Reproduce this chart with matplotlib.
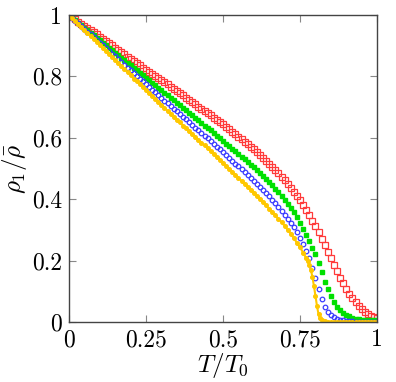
import numpy as np
import matplotlib
matplotlib.use('Agg')
import matplotlib.pyplot as plt

plt.rcParams['font.family'] = 'serif'
plt.rcParams['font.serif'] = ['cmr10']
plt.rcParams['mathtext.fontset'] = 'cm'
plt.rcParams['axes.formatter.use_mathtext'] = True

# T/T0 grid shared by red, green, blue
t_main = [0.00, 0.01, 0.02, 0.03, 0.04, 0.05, 0.06, 0.07, 0.08, 0.09,
          0.10, 0.11, 0.12, 0.13, 0.14, 0.15, 0.16, 0.17, 0.18, 0.19,
          0.20, 0.21, 0.22, 0.23, 0.24, 0.25, 0.26, 0.27, 0.28, 0.29,
          0.30, 0.31, 0.32, 0.33, 0.34, 0.35, 0.36, 0.37, 0.38, 0.39,
          0.40, 0.41, 0.42, 0.43, 0.44, 0.45, 0.46, 0.47, 0.48, 0.49,
          0.50, 0.51, 0.52, 0.53, 0.54, 0.55, 0.56, 0.57, 0.58, 0.59,
          0.60, 0.61, 0.62, 0.63, 0.64, 0.65, 0.66, 0.67, 0.68, 0.69,
          0.70, 0.71, 0.72, 0.73, 0.74, 0.75, 0.76, 0.77, 0.78, 0.79,
          0.80, 0.81, 0.82, 0.83, 0.84, 0.85, 0.86, 0.87, 0.88, 0.89,
          0.90, 0.91, 0.92, 0.93, 0.94, 0.95, 0.96, 0.97, 0.98, 0.99,
          1.00]

rho_red = [1.000, 0.993, 0.986, 0.978, 0.971, 0.964, 0.957, 0.950, 0.944, 0.937,
           0.930, 0.923, 0.916, 0.908, 0.901, 0.894, 0.887, 0.879, 0.872, 0.864,
           0.857, 0.850, 0.843, 0.836, 0.829, 0.822, 0.815, 0.808, 0.802, 0.795,
           0.788, 0.781, 0.774, 0.766, 0.759, 0.752, 0.745, 0.738, 0.730, 0.723,
           0.716, 0.709, 0.702, 0.694, 0.687, 0.680, 0.673, 0.666, 0.659, 0.651,
           0.644, 0.636, 0.628, 0.620, 0.612, 0.604, 0.596, 0.588, 0.579, 0.571,
           0.562, 0.553, 0.544, 0.535, 0.526, 0.516, 0.506, 0.496, 0.485, 0.474,
           0.463, 0.451, 0.438, 0.425, 0.412, 0.398, 0.382, 0.366, 0.348, 0.330,
           0.312, 0.292, 0.271, 0.250, 0.228, 0.207, 0.186, 0.165, 0.145, 0.126,
           0.108, 0.092, 0.078, 0.065, 0.053, 0.043, 0.034, 0.027, 0.021, 0.016,
           0.012]

rho_green = [1.000, 0.992, 0.984, 0.975, 0.967, 0.959, 0.951, 0.943, 0.934, 0.926,
             0.918, 0.910, 0.902, 0.893, 0.885, 0.877, 0.869, 0.861, 0.852, 0.844,
             0.836, 0.828, 0.820, 0.812, 0.804, 0.796, 0.788, 0.780, 0.771, 0.763,
             0.755, 0.747, 0.739, 0.731, 0.723, 0.715, 0.707, 0.698, 0.690, 0.681,
             0.673, 0.665, 0.657, 0.648, 0.640, 0.632, 0.624, 0.615, 0.607, 0.598,
             0.590, 0.581, 0.573, 0.564, 0.556, 0.547, 0.538, 0.530, 0.521, 0.513,
             0.504, 0.495, 0.486, 0.476, 0.466, 0.456, 0.445, 0.434, 0.423, 0.411,
             0.399, 0.386, 0.372, 0.357, 0.341, 0.323, 0.304, 0.284, 0.263, 0.242,
             0.220, 0.192, 0.162, 0.132, 0.106, 0.085, 0.066, 0.050, 0.038, 0.030,
             0.023, 0.018, 0.014, 0.011, 0.009, 0.008, 0.007, 0.006, 0.005, 0.005,
             0.004]

rho_blue = [1.000, 0.991, 0.982, 0.973, 0.964, 0.955, 0.946, 0.937, 0.928, 0.919,
            0.910, 0.901, 0.892, 0.883, 0.874, 0.865, 0.856, 0.847, 0.838, 0.829,
            0.820, 0.811, 0.802, 0.793, 0.784, 0.775, 0.766, 0.757, 0.748, 0.739,
            0.730, 0.721, 0.712, 0.704, 0.695, 0.686, 0.677, 0.668, 0.660, 0.651,
            0.642, 0.633, 0.624, 0.616, 0.607, 0.598, 0.589, 0.580, 0.571, 0.562,
            0.553, 0.544, 0.535, 0.526, 0.516, 0.507, 0.498, 0.488, 0.479, 0.470,
            0.460, 0.450, 0.440, 0.431, 0.421, 0.410, 0.399, 0.388, 0.376, 0.363,
            0.350, 0.337, 0.323, 0.308, 0.292, 0.275, 0.255, 0.232, 0.207, 0.177,
            0.142, 0.106, 0.074, 0.050, 0.033, 0.022, 0.015, 0.010, 0.007, 0.005,
            0.003, 0.002, 0.002, 0.001, 0.001, 0.001, 0.001, 0.000, 0.000, 0.000,
            0.000]

# yellow series is sampled finer through its sharp drop
t_yellow = [0.00, 0.01, 0.02, 0.03, 0.04, 0.05, 0.06, 0.07, 0.08, 0.09,
            0.10, 0.11, 0.12, 0.13, 0.14, 0.15, 0.16, 0.17, 0.18, 0.19,
            0.20, 0.21, 0.22, 0.23, 0.24, 0.25, 0.26, 0.27, 0.28, 0.29,
            0.30, 0.31, 0.32, 0.33, 0.34, 0.35, 0.36, 0.37, 0.38, 0.39,
            0.40, 0.41, 0.42, 0.43, 0.44, 0.45, 0.46, 0.47, 0.48, 0.49,
            0.50, 0.51, 0.52, 0.53, 0.54, 0.55, 0.56, 0.57, 0.58, 0.59,
            0.60, 0.61, 0.62, 0.63, 0.64, 0.65, 0.66, 0.67, 0.68, 0.69,
            0.70, 0.71, 0.72, 0.73, 0.74, 0.75, 0.76, 0.77, 0.775, 0.78,
            0.785, 0.79, 0.795, 0.80, 0.805, 0.81, 0.815, 0.82, 0.83, 0.84,
            0.85, 0.86, 0.87, 0.88, 0.89, 0.90, 0.91, 0.92, 0.93, 0.94,
            0.95, 0.96, 0.97, 0.98, 0.99, 1.00]

rho_yellow = [1.000, 0.990, 0.980, 0.971, 0.961, 0.951, 0.941, 0.931, 0.922, 0.912,
              0.902, 0.892, 0.882, 0.873, 0.863, 0.853, 0.843, 0.833, 0.823, 0.813,
              0.803, 0.793, 0.784, 0.774, 0.765, 0.755, 0.745, 0.736, 0.726, 0.717,
              0.707, 0.697, 0.688, 0.678, 0.669, 0.659, 0.650, 0.640, 0.631, 0.621,
              0.612, 0.603, 0.594, 0.584, 0.575, 0.566, 0.557, 0.547, 0.538, 0.528,
              0.519, 0.509, 0.499, 0.490, 0.480, 0.470, 0.460, 0.450, 0.441, 0.431,
              0.421, 0.411, 0.401, 0.390, 0.380, 0.369, 0.358, 0.347, 0.336, 0.325,
              0.313, 0.300, 0.287, 0.273, 0.258, 0.243, 0.226, 0.208, 0.198, 0.186,
              0.170, 0.148, 0.118, 0.085, 0.052, 0.025, 0.012, 0.005, 0.002, 0.001,
              0.000, 0.000, 0.000, 0.000, 0.000, 0.000, 0.000, 0.000, 0.000, 0.000,
              0.000, 0.000, 0.000, 0.000, 0.000, 0.000]

x_ticks = [0, 0.25, 0.5, 0.75, 1]
x_ticklabels = ['0', '0.25', '0.5', '0.75', '1']
y_ticks = [0, 0.2, 0.4, 0.6, 0.8, 1]
y_ticklabels = ['0', '0.2', '0.4', '0.6', '0.8', '1']

fig = plt.figure(figsize=(3.96, 3.82), dpi=100)
ax = fig.add_axes([0.1742, 0.157, 0.778, 0.8037])

ax.plot(t_main, rho_red, 's', ms=3.9, mfc='none', mec='#ff3a3a', mew=0.9)
ax.plot(t_main, rho_green, 's', ms=3.2, color='#00e000', mec='#00e000')
ax.plot(t_main, rho_blue, 'o', ms=3.3, mfc='none', mec='#3a3aff', mew=0.9)
ax.plot(t_yellow, rho_yellow, '-o', ms=2.6, lw=1.5, color='#ffc800', mec='#ffc800')

ax.set_xlim(0, 1)
ax.set_ylim(0, 1)
ax.set_xticks(x_ticks)
ax.set_xticklabels(x_ticklabels)
ax.set_yticks(y_ticks)
ax.set_yticklabels(y_ticklabels)
ax.tick_params(direction='in', length=5, width=0.8, color='#888888',
               top=True, right=True, labelsize=17, pad=5)
for sp in ax.spines.values():
    sp.set_color('#444444')
    sp.set_linewidth(1.0)

ax.set_xlabel(r'$T/T_0$', fontsize=18, labelpad=0)
ax.set_ylabel(r'$\rho_1/\bar{\rho}$', fontsize=18, labelpad=2)

fig.savefig('out.png', dpi=100)
